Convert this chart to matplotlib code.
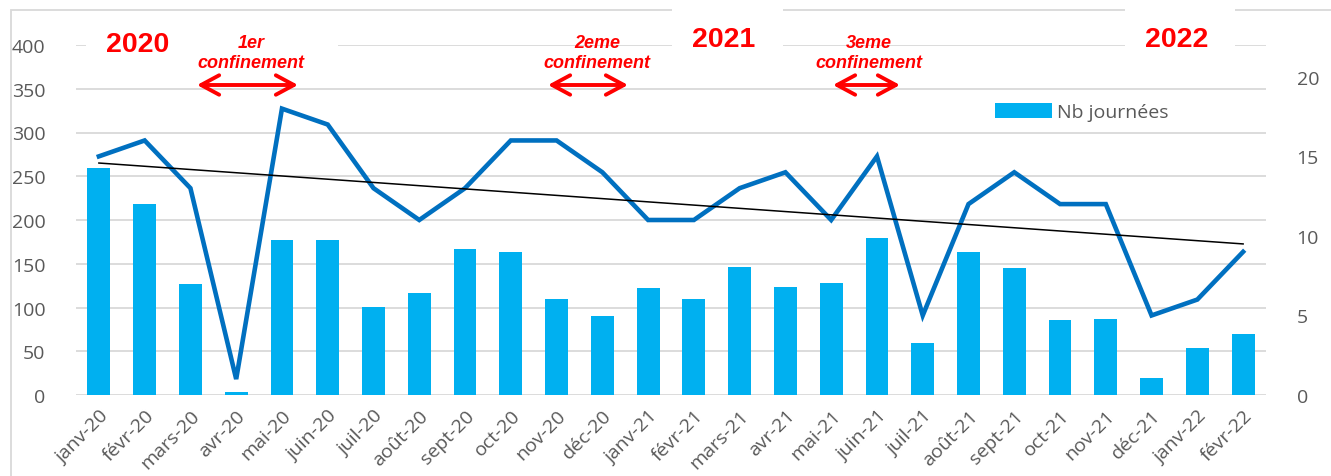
import numpy as np
import matplotlib
matplotlib.use("Agg")
import matplotlib.pyplot as plt
from matplotlib.patches import Rectangle, FancyArrowPatch

# Data - - - - - - - - - - - - - - - - - - - - - - - - - - - - - - - - - - -
mois = ['janv-20', 'févr-20', 'mars-20', 'avr-20', 'mai-20', 'juin-20', 'juil-20',
        'août-20', 'sept-20', 'oct-20', 'nov-20', 'déc-20', 'janv-21', 'févr-21',
        'mars-21', 'avr-21', 'mai-21', 'juin-21', 'juil-21', 'août-21', 'sept-21',
        'oct-21', 'nov-21', 'déc-21', 'janv-22', 'févr-22']
nb_journees = [260, 218, 127, 3, 177, 177, 101, 117, 167, 163, 110, 90, 122, 110,
               146, 124, 128, 180, 60, 164, 145, 86, 87, 20, 54, 70]
nb_series = [15, 16, 13, 1, 18, 17, 13, 11, 13, 16, 16, 14, 11, 11,
             13, 14, 11, 15, 5, 12, 14, 12, 12, 5, 6, 9]

left_ticks = [0, 50, 100, 150, 200, 250, 300, 350, 400]
right_ticks = [0, 5, 10, 15, 20]

W, H = 1331, 477
def fx(x):
    return x / W
def fy(y):
    return 1 - y / H

BAR = '#00B0F0'
LINE = '#0070C0'
GRID = '#D9D9D9'
TXT = '#595959'
RED = '#FF0000'

plt.rcParams['font.family'] = ['Open Sans', 'DejaVu Sans']

fig = plt.figure(figsize=(W / 100, H / 100), dpi=100)
ax = fig.add_axes([fx(76), fy(396), fx(1266) - fx(76), fy(46) - fy(396)])
ax2 = ax.twinx()

x = np.arange(len(mois))
ax.bar(x, nb_journees, width=0.5, color=BAR, zorder=2, label='Nb journées')
ax.set_ylim(0, 400)
ax.set_xlim(-0.5, len(mois) - 0.5)
ax.set_yticks(left_ticks)
ax.grid(axis='y', color=GRID, lw=1.3, zorder=0)
ax.set_axisbelow(True)
ax.set_xticks(x)
ax.set_xticklabels(mois, rotation=45, ha='right', rotation_mode='anchor')
ax.tick_params(axis='both', length=0, labelsize=14, labelcolor=TXT)
ax.tick_params(axis='y', pad=22)
ax.tick_params(axis='x', pad=8)

# line series + linear trend
ax2.plot(x, nb_series, color=LINE, lw=3.3, zorder=3, solid_joinstyle='miter')
coef = np.polyfit(x, nb_series, 1)
ax2.plot(x, np.polyval(coef, x), color='black', lw=1.1, zorder=4)
ax2.set_ylim(0, 22)
ax2.set_yticks(right_ticks)
ax2.tick_params(axis='y', length=0, labelsize=14, labelcolor=TXT, pad=22)

for a in (ax, ax2):
    for s in a.spines.values():
        s.set_visible(False)

# outer frame
fig.add_artist(Rectangle((fx(11), fy(490)), fx(1340) - fx(11), fy(11) - fy(490),
                         transform=fig.transFigure, fill=False, edgecolor=GRID, lw=1.3))

# white boxes behind the annotations
for x0, y0, x1, y1 in [(86, 25, 338, 74), (672, 5, 783, 74), (1125, 5, 1235, 74)]:
    fig.add_artist(Rectangle((fx(x0), fy(y1)), fx(x1) - fx(x0), fy(y0) - fy(y1),
                             transform=fig.transFigure, facecolor='white',
                             edgecolor='none', zorder=5))

big = dict(color=RED, fontsize=20.5, fontweight='bold', family='Liberation Sans',
           ha='center', va='center', zorder=6)
fig.text(fx(138), fy(45), '2020', **big)
fig.text(fx(724), fy(40), '2021', **big)
fig.text(fx(1177), fy(40), '2022', **big)

conf = dict(color=RED, fontsize=13, fontweight='bold', style='italic',
            family='Liberation Sans', ha='center', va='center', zorder=6)
for cx, lab in [(251, '1er'), (597, '2eme'), (869, '3eme')]:
    fig.text(fx(cx), fy(44), lab, **conf)
    fig.text(fx(cx), fy(64), 'confinement', **conf)

for x0, x1 in [(197, 298), (548, 628), (833, 900)]:
    fig.add_artist(FancyArrowPatch((fx(x0), fy(86)), (fx(x1), fy(86)),
                                   transform=fig.transFigure,
                                   arrowstyle='<->,head_length=13,head_width=7',
                                   mutation_scale=1, color=RED, lw=2.8,
                                   shrinkA=0, shrinkB=0, zorder=6))

ax.legend(loc='center left', bbox_to_anchor=(fx(978), fy(113)),
          bbox_transform=fig.transFigure, frameon=False, fontsize=14,
          labelcolor=TXT, handlelength=2.9, handleheight=0.8, handletextpad=0.25)

fig.savefig('out.png', dpi=100)
